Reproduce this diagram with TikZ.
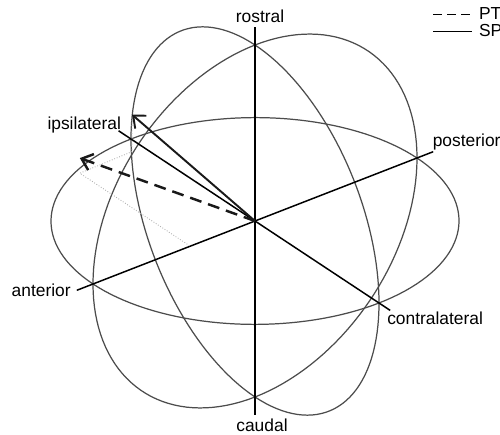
\documentclass[tikz,border=0pt]{standalone}
\usepackage{fontspec}
\setmainfont{Liberation Sans}
\usetikzlibrary{arrows.meta, positioning, calc}

\begin{document}
\begin{tikzpicture}[x={(3.24cm,1.26cm)}, y={(2.48cm,-1.64cm)}, z={(0cm,3.52cm)},
  >={Straight Barb[length=2mm, width=3.4mm]},
  circ/.style={line width=0.7pt, black!70},
  ax/.style={line width=0.85pt, black},
  comp/.style={densely dotted, black!30, line width=0.5pt},
  vecsp/.style={->, line width=1.1pt, black!90},
  vecpt/.style={->, line width=1.4pt, black!90, dash pattern=on 6.8pt off 4pt},
  lbl/.style={font=\fontsize{9.9}{12}\selectfont, inner sep=1pt}]
  \useasboundingbox (-5.1cm,-4.28cm) rectangle (4.9cm,4.42cm);

  % axis ends
  \coordinate (O) at (0,0,0);
  \coordinate (post) at (1.1,0,0);
  \coordinate (ant) at (-1.1,0,0);
  \coordinate (contra) at (0,1.09,0);
  \coordinate (ipsi) at (0,-1.1,0);
  \coordinate (ros) at (0,0,1.1);
  \coordinate (cau) at (0,0,-1.1);

  % great circles
  \draw[circ] plot[domain=0:360, samples=145, variable=\t] ({cos(\t)}, {sin(\t)}, 0);
  \draw[circ] plot[domain=0:360, samples=145, variable=\t] ({cos(\t)}, 0, {sin(\t)});
  \draw[circ] plot[domain=0:360, samples=145, variable=\t] (0, {cos(\t)}, {sin(\t)});

  \draw[ax] (ant) -- (post);
  \draw[ax] (ipsi) -- (contra);
  \draw[ax] (cau) -- (ros);

  % vectors and their components
  \coordinate (sp) at (-0.07,-0.9,0.21);
  \coordinate (spfoot) at (-0.07,-0.9,0);
  \coordinate (pt) at (-0.40,-0.89,0.086);
  \coordinate (ptfoot) at (-0.40,-0.89,0);
  \coordinate (ptant) at (-0.40,0,0);
  \draw[comp] (sp) -- (spfoot) -- (ptfoot) -- (ptant);
  \draw[vecsp] (O) -- (sp);
  \draw[vecpt] (O) -- (pt);

  \node[lbl, anchor=base] (roslbl) at ([shift={(0.1cm,0.1cm)}]ros) {rostral};
  \node[lbl, anchor=base] (caulbl) at ([shift={(0.14cm,-0.34cm)}]cau) {caudal};
  \node[lbl, anchor=base west] (postlbl) at ([shift={(-0.05cm,0.11cm)}]post) {posterior};
  \node[lbl, anchor=base west] (contralbl) at ([shift={(-0.1cm,-0.29cm)}]contra) {contralateral};
  \node[lbl, anchor=base east] (ipsilbl) at ([shift={(0.09cm,0.02cm)}]ipsi) {ipsilateral};
  \node[lbl, anchor=base east] (antlbl) at ([shift={(-0.08cm,-0.12cm)}]ant) {anterior};

  % legend
  \node[lbl, anchor=west] (ptkey) at (4.44cm,4.14cm) {PT};
  \node[lbl, anchor=west] (spkey) at (4.44cm,3.8cm) {SP};
  \coordinate (ptkeyl) at (3.56cm,4.14cm);
  \coordinate (spkeyl) at (3.56cm,3.8cm);
  \draw[line width=0.5pt, dash pattern=on 5pt off 3pt] (ptkeyl) -- ([xshift=-3pt]ptkey.west);
  \draw[line width=0.5pt] (spkeyl) -- ([xshift=-3pt]spkey.west);
\end{tikzpicture}
\end{document}
